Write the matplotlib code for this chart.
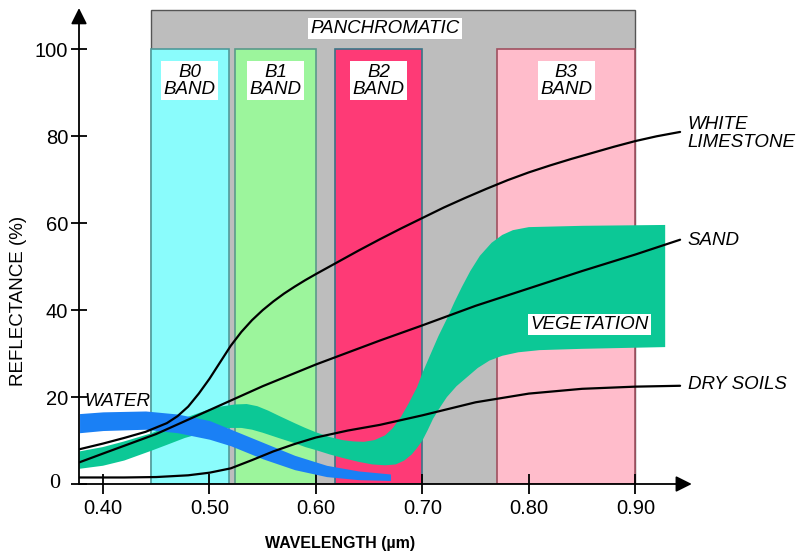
import numpy as np
import matplotlib.pyplot as plt
from matplotlib.patches import Rectangle

# spectral bands (um)
band_names = ["B0\nBAND", "B1\nBAND", "B2\nBAND", "B3\nBAND"]
band_lo = [0.445, 0.524, 0.618, 0.77]
band_hi = [0.518, 0.60, 0.70, 0.90]
band_top = 100
pan_lo, pan_hi, pan_top = 0.445, 0.90, 109

# reflectance curves
lime_x = [0.378, 0.40, 0.42, 0.44, 0.46, 0.47, 0.48, 0.49, 0.50, 0.51, 0.52, 0.53, 0.54,
          0.55, 0.56, 0.57, 0.58, 0.59, 0.60, 0.62, 0.64, 0.66, 0.68, 0.70, 0.72, 0.74,
          0.76, 0.78, 0.80, 0.82, 0.84, 0.86, 0.88, 0.90, 0.92, 0.942]
lime_y = [8, 9.3, 10.6, 12, 14, 15.6, 17.8, 20.8, 24.2, 28, 31.8, 35, 37.7,
          40, 42, 43.8, 45.4, 46.9, 48.3, 51, 53.7, 56.3, 58.8, 61.2, 63.6, 65.8,
          67.9, 69.9, 71.7, 73.3, 74.8, 76.2, 77.6, 78.9, 80, 81]

sand_x = [0.378, 0.40, 0.45, 0.50, 0.55, 0.60, 0.66, 0.70, 0.75, 0.80, 0.85, 0.90, 0.942]
sand_y = [5, 7, 11.5, 17, 22.5, 27.5, 33, 36.5, 41, 45, 49, 52.8, 56.2]

dry_x = [0.378, 0.42, 0.45, 0.48, 0.50, 0.52, 0.54, 0.56, 0.58, 0.60, 0.63, 0.66,
         0.70, 0.75, 0.80, 0.85, 0.90, 0.942]
dry_y = [1.5, 1.5, 1.6, 2, 2.6, 3.6, 5.5, 7.5, 9.2, 10.7, 12.3, 13.6,
         15.8, 18.8, 20.8, 21.9, 22.4, 22.6]

water_x = [0.378, 0.40, 0.44, 0.47, 0.50, 0.52, 0.55, 0.58, 0.61, 0.64, 0.67]
water_hi = [16.2, 16.6, 16.8, 16.1, 14.6, 12.6, 9.6, 6.6, 4.3, 3, 2.3]
water_lo = [11.8, 12.3, 12.6, 11.8, 10.3, 8.8, 5.8, 3.3, 1.7, 1, 0.8]

veg_up_x = [0.378, 0.40, 0.42, 0.446, 0.477, 0.50, 0.51, 0.524, 0.535, 0.545, 0.555,
            0.566, 0.58, 0.59, 0.60, 0.613, 0.625, 0.635, 0.645, 0.655, 0.665, 0.672,
            0.68, 0.687, 0.695, 0.70, 0.707, 0.715, 0.723, 0.73, 0.737, 0.745, 0.754,
            0.765, 0.775, 0.785, 0.80, 0.85, 0.928]
veg_up_y = [7.5, 8.5, 9.8, 11.7, 15.2, 17.2, 17.8, 18.3, 18.4, 17.9, 16.9,
            15.6, 14, 12.9, 11.9, 10.8, 10.1, 9.8, 9.7, 10.1, 11.2, 12.8,
            15.5, 18.5, 22.3, 25.5, 29.5, 34, 38, 41.8, 45.3, 49, 52.5,
            55.5, 57.3, 58.4, 59.1, 59.4, 59.6]
veg_lo_x = [0.378, 0.40, 0.42, 0.446, 0.46, 0.477, 0.49, 0.50, 0.51, 0.52, 0.53, 0.54,
            0.55, 0.566, 0.58, 0.59, 0.60, 0.613, 0.625, 0.64, 0.653, 0.665, 0.675,
            0.683, 0.69, 0.695, 0.70, 0.705, 0.71, 0.717, 0.723, 0.732, 0.742, 0.752,
            0.763, 0.775, 0.79, 0.81, 0.85, 0.928]
veg_lo_y = [3.5, 4.2, 5.4, 7.7, 9, 10.6, 11.5, 12.1, 12.6, 12.9, 12.9, 12.5,
            11.8, 10.5, 9.4, 8.5, 7.8, 6.8, 6, 5.1, 4.5, 4.3, 4.5,
            5.4, 6.8, 8.3, 10, 12.4, 15, 17.8, 20, 22.5, 24.6, 26.7,
            28.4, 29.5, 30.3, 30.8, 31.1, 31.5]

x_ticks = [0.40, 0.50, 0.60, 0.70, 0.80, 0.90]
x_labels = ["0.40", "0.50", "0.60", "0.70", "0.80", "0.90"]
y_ticks = [0, 20, 40, 60, 80, 100]
y_labels = ["", "20", "40", "60", "80", "100"]

band_fill = ["#8afcfc", "#9cf59c", "#fe3a76", "#ffbccb"]
band_edge = ["#4f9a9a", "#5a9a8a", "#3a7486", "#a05060"]

plt.rcParams['font.family'] = ['Liberation Sans', 'DejaVu Sans']

fig = plt.figure(figsize=(8, 5.56), dpi=100)
ax = fig.add_axes([0.09875, 0.1295, 0.766, 0.856])
ax.set_xlim(0.3775, 0.953)
ax.set_ylim(0, 109.5)

# panchromatic + bands
ax.add_patch(Rectangle((pan_lo, 0), pan_hi - pan_lo, pan_top, facecolor="#bdbdbd",
                       edgecolor="#555555", lw=1, zorder=1))
for name, lo, hi, fc, ec in zip(band_names, band_lo, band_hi, band_fill, band_edge):
    ax.add_patch(Rectangle((lo, 0), hi - lo, band_top, facecolor=fc, edgecolor=ec,
                           lw=1.2, zorder=1.5))
    ax.text((lo + hi) / 2, 92.8, name, ha="center", va="center", fontsize=13.5,
            style="italic", linespacing=1.0, zorder=6,
            bbox=dict(facecolor="white", edgecolor="none", pad=1.8))
ax.text(0.665, 104.8, "PANCHROMATIC", ha="center", va="center", fontsize=13.5,
        style="italic", zorder=6, bbox=dict(facecolor="white", edgecolor="none", pad=1.8))

# vegetation and water bands
vx = np.array(veg_up_x + veg_lo_x[::-1])
vy = np.array(veg_up_y + veg_lo_y[::-1])
ax.fill(vx, vy, color="#0cc896", lw=0, zorder=2)
ax.fill_between(water_x, water_lo, water_hi, color="#1a80f5", lw=0, zorder=3)

# curves
for cx, cy in [(lime_x, lime_y), (sand_x, sand_y), (dry_x, dry_y)]:
    ax.plot(cx, cy, color="black", lw=1.6, zorder=4, solid_capstyle="round",
            solid_joinstyle="round")

# labels
lab = dict(fontsize=13.5, style="italic", va="center", ha="left", clip_on=False)
ax.text(0.9493, 80.7, "WHITE\nLIMESTONE", linespacing=1.05, **lab)
ax.text(0.9493, 56.1, "SAND", **lab)
ax.text(0.9493, 22.8, "DRY SOILS", **lab)
ax.text(0.383, 19.0, "WATER", zorder=6, **lab)
ax.text(0.857, 36.6, "VEGETATION", ha="center", va="center", fontsize=13.5,
        style="italic", zorder=6, bbox=dict(facecolor="white", edgecolor="none", pad=1.5))

# axes with arrows
for s in ax.spines.values():
    s.set_visible(False)
ax.annotate("", xy=(1, 0), xytext=(0, 0), xycoords="axes fraction",
            arrowprops=dict(arrowstyle="-|>", color="black", lw=1.3, mutation_scale=24,
                            shrinkA=0, shrinkB=0), zorder=7)
ax.annotate("", xy=(0, 1), xytext=(0, 0), xycoords="axes fraction",
            arrowprops=dict(arrowstyle="-|>", color="black", lw=1.3, mutation_scale=24,
                            shrinkA=0, shrinkB=0), zorder=7)

ax.set_axisbelow(False)
ax.set_xticks(x_ticks)
ax.set_xticklabels(x_labels)
ax.set_yticks(y_ticks)
ax.set_yticklabels(y_labels)
ax.tick_params(axis="x", direction="inout", length=14, width=1.3, labelsize=14.5, pad=4)
ax.tick_params(axis="y", direction="inout", length=11.5, width=1.3, labelsize=14.5, pad=2)
ax.text(-0.03, 0, "0", transform=ax.get_yaxis_transform(), ha="right", va="center",
        fontsize=16, family="Liberation Serif", clip_on=False)

ax.set_xlabel("WAVELENGTH (µm)", fontsize=11.5, fontweight="bold")
ax.xaxis.set_label_coords(0.426, -0.11)
ax.set_ylabel("REFLECTANCE (%)", fontsize=13.5)
ax.yaxis.set_label_coords(-0.085, 0.385)

fig.savefig("out.png", dpi=100)
